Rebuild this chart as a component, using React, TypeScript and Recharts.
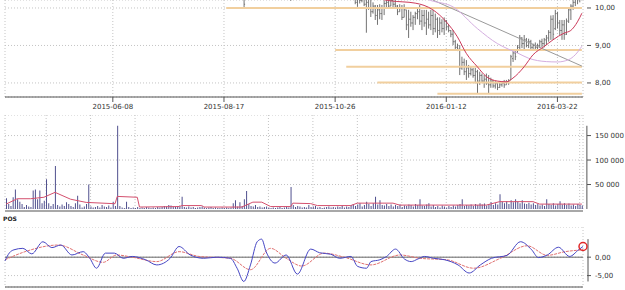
import React from "react";
import {
  Bar,
  CartesianGrid,
  ComposedChart,
  Line,
  ReferenceDot,
  ReferenceLine,
  XAxis,
  YAxis,
} from "recharts";

const DAY_COUNT = 260;
const DATE_TICKS = [48, 98, 148, 198, 248];
const DATE_LABELS = ["2015-06-08", "2015-08-17", "2015-10-26", "2016-01-12", "2016-03-22"];
const GRID_DAYS = [18, 38, 58, 78, 98, 118, 138, 158, 178, 198, 218, 238, 258];

// [day, open, high, low, close]
const EARLY_BARS = [
  [107, 10.3, 10.5, 10.0, 10.1],
  [128, 10.35, 10.45, 10.19, 10.25],
];

// [open, high, low, close] from day PRICE_START on
const PRICE_START = 156;
const OHLC = [
  [10.4, 10.45, 10.25, 10.3], [10.3, 10.4, 10.1, 10.15], [10.15, 10.35, 10.03, 10.3], [10.28, 10.3, 10.12, 10.2],
  [10.2, 10.32, 10.15, 10.25], [10.25, 10.3, 10.05, 10.1], [10.1, 10.28, 9.34, 10.15], [10.15, 10.25, 9.95, 10.0],
  [10.0, 10.22, 9.76, 9.9], [9.9, 10.15, 9.85, 10.05], [10.05, 10.08, 9.68, 9.8], [9.8, 10.08, 9.55, 9.95],
  [9.95, 10.1, 9.7, 9.85], [9.85, 10.08, 9.68, 10.0], [10.0, 10.2, 9.81, 10.12], [10.12, 10.25, 10.02, 10.15],
  [10.15, 10.22, 9.98, 10.05], [10.05, 10.25, 10.05, 10.2], [10.2, 10.2, 10.0, 10.1], [10.1, 10.22, 10.0, 10.05],
  [10.05, 10.08, 9.81, 9.9], [9.9, 10.1, 9.9, 10.0], [10.0, 10.08, 9.68, 9.75], [9.75, 10.1, 9.75, 9.95],
  [9.95, 9.95, 9.41, 9.55], [9.55, 9.95, 9.2, 9.7], [9.7, 9.9, 9.5, 9.6], [9.6, 9.81, 9.41, 9.75],
  [9.75, 9.9, 9.55, 9.85], [9.85, 10.0, 9.7, 9.9], [9.9, 10.08, 9.55, 9.65], [9.65, 9.95, 9.41, 9.8],
  [9.8, 9.95, 9.5, 9.6], [9.6, 9.95, 9.28, 9.7], [9.7, 9.9, 9.45, 9.55], [9.55, 9.95, 9.41, 9.8],
  [9.8, 9.95, 9.28, 9.45], [9.45, 9.85, 9.35, 9.7], [9.7, 9.75, 9.2, 9.4], [9.4, 9.75, 9.28, 9.6],
  [9.6, 9.7, 9.35, 9.45], [9.45, 9.75, 9.28, 9.65], [9.65, 9.68, 9.41, 9.5], [9.5, 9.55, 9.35, 9.4],
  [9.4, 9.41, 9.22, 9.3], [9.3, 9.41, 9.01, 9.1], [9.1, 9.15, 8.88, 8.95], [8.95, 9.05, 8.85, 8.9],
  [8.9, 9.01, 8.21, 8.4], [8.4, 8.7, 8.35, 8.55], [8.55, 8.65, 8.21, 8.3], [8.3, 8.61, 8.08, 8.4],
  [8.4, 8.48, 8.14, 8.25], [8.25, 8.45, 8.2, 8.35], [8.35, 8.4, 8.14, 8.2], [8.2, 8.4, 7.99, 8.3],
  [8.3, 8.35, 7.73, 8.05], [8.05, 8.3, 7.95, 8.2], [8.2, 8.25, 8.0, 8.05], [8.05, 8.21, 7.87, 8.1],
  [8.1, 8.25, 7.95, 8.0], [8.0, 8.21, 7.73, 7.95], [7.95, 8.14, 7.87, 8.05], [8.05, 8.08, 7.87, 7.92],
  [7.92, 8.05, 7.85, 7.98], [7.98, 8.02, 7.81, 7.88], [7.88, 8.02, 7.87, 7.95], [7.95, 8.05, 7.9, 8.0],
  [8.0, 8.08, 7.87, 7.95], [7.95, 8.08, 7.95, 8.02], [8.02, 8.1, 7.95, 8.05], [8.08, 8.75, 8.08, 8.7],
  [8.65, 8.88, 8.56, 8.8], [8.8, 8.88, 8.61, 8.7], [8.82, 9.01, 8.8, 8.95], [8.95, 9.28, 8.88, 9.2],
  [9.2, 9.22, 8.93, 9.05], [9.05, 9.28, 8.88, 9.15], [9.15, 9.2, 8.95, 9.0], [9.0, 9.18, 8.93, 9.1],
  [9.1, 9.15, 8.88, 8.95], [8.95, 9.05, 8.88, 9.0], [9.0, 9.08, 8.9, 8.95], [8.95, 9.05, 8.88, 9.0],
  [9.0, 9.15, 8.93, 9.1], [9.1, 9.18, 8.95, 9.05], [9.05, 9.2, 8.95, 9.15], [9.15, 9.28, 9.01, 9.2],
  [9.2, 9.41, 9.1, 9.35], [9.35, 9.8, 9.15, 9.7], [9.7, 9.81, 9.15, 9.3], [9.45, 9.95, 9.41, 9.85],
  [9.85, 9.9, 9.45, 9.6], [9.6, 9.68, 9.28, 9.4], [9.4, 9.68, 9.15, 9.55], [9.55, 9.68, 9.15, 9.3],
  [9.3, 9.72, 9.28, 9.65], [9.65, 10.0, 9.6, 9.95], [9.95, 10.1, 9.68, 10.05], [10.05, 10.21, 9.95, 10.15],
  [10.15, 10.3, 10.05, 10.25], [10.25, 10.35, 10.1, 10.3], [10.3, 10.4, 10.15, 10.35],
];

// [day, value]
const MA_RED = [
  [160, 10.35], [173, 10.19], [184, 10.13], [192, 9.95], [198, 9.63], [203, 9.23], [207, 8.79],
  [212, 8.43], [216, 8.17], [221, 8.05], [225, 8.03], [228, 8.13], [233, 8.43], [237, 8.75],
  [242, 8.97], [246, 9.15], [251, 9.33], [254, 9.4], [257, 9.63], [259, 9.86],
];
const MA_LAVENDER = [
  [180, 10.45], [191, 10.2], [201, 10.03], [212, 9.45], [221, 9.05], [226, 8.9], [230, 8.8],
  [235, 8.66], [243, 8.57], [248, 8.56], [253, 8.62], [256, 8.75], [259, 8.98],
];
const TREND = [
  [192, 10.21],
  [259, 8.45],
];
// [start day, level]
const LEVELS = [
  [99, 10.0],
  [148, 8.88],
  [153, 8.43],
  [167, 8.01],
  [194, 7.71],
];

// volume in thousands, one per day
const VOLUME = [
  22, 10, 6, 24, 40, 20, 15, 10, 4, 8,
  5, 4, 38, 40, 20, 38, 12, 17, 61, 12,
  6, 10, 88, 8, 5, 9, 6, 14, 10, 6,
  4, 12, 27, 9, 3, 5, 10, 50, 5, 3,
  4, 6, 3, 8, 5, 4, 7, 3, 15, 6,
  170, 6, 3, 2, 15, 4, 2, 3, 2, 4,
  2, 3, 2, 4, 3, 2, 3, 2, 4, 3,
  4, 6, 5, 8, 7, 5, 4, 6, 5, 25,
  4, 3, 5, 3, 4, 2, 3, 4, 5, 3,
  2, 3, 4, 2, 3, 2, 2, 3, 2, 3,
  2, 3, 12, 18, 5, 14, 6, 20, 37, 10,
  6, 5, 8, 4, 5, 3, 4, 5, 3, 2,
  3, 2, 3, 4, 2, 3, 5, 3, 45, 8,
  4, 6, 5, 3, 4, 3, 8, 4, 5, 6,
  3, 4, 2, 3, 4, 5, 3, 4, 3, 5,
  4, 6, 3, 5, 4, 8, 10, 6, 9, 12,
  5, 8, 15, 10, 6, 12, 25, 9, 18, 8,
  7, 10, 6, 9, 5, 8, 6, 9, 4, 7,
  6, 9, 8, 5, 10, 8, 20, 7, 6, 9,
  12, 5, 8, 4, 6, 3, 7, 5, 3, 6,
  4, 7, 5, 8, 10, 20, 6, 8, 7, 9,
  6, 10, 8, 12, 9, 11, 7, 10, 14, 8,
  12, 9, 30, 15, 12, 16, 10, 18, 14, 20,
  15, 12, 18, 11, 10, 13, 9, 12, 8, 10,
  7, 9, 6, 20, 10, 8, 12, 7, 10, 16,
  9, 12, 8, 11, 7, 9, 6, 10, 8, 7,
];
const VOLUME_MA = [
  [0, 10], [5, 21], [11, 21], [17, 24], [22, 34], [29, 20], [36, 13.5], [49, 10.8], [50, 25.7],
  [59, 24], [60, 4], [78, 5], [79, 7], [88, 7], [89, 4], [106, 4], [111, 14], [115, 14],
  [119, 5], [128, 5], [129, 12], [137, 11], [140, 7], [155, 7], [158, 12], [174, 12], [177, 8],
  [216, 8], [222, 15], [237, 15], [240, 10], [259, 10],
];

const POS = [
  [0, -1.0], [2, 1.2], [4, 2.0], [8, 2.4], [12, 0.9], [17, 4.2], [21, 2.6], [25, 3.3], [30, 0.6],
  [35, 1.5], [38, -0.3], [41, -3.0], [45, 1.1], [49, 1.1], [53, -0.3], [57, 0.2], [63, -0.7],
  [68, -2.1], [74, -0.3], [78, 2.9], [83, 0.6], [89, -0.3], [95, 0], [101, -0.3], [104, -3.0],
  [107, -6.6], [110, -2.1], [113, 4.2], [115, 4.9], [117, 1.5], [121, -1.6], [126, 0.6],
  [131, -4.6], [137, 2.2], [141, 1.2], [146, 0.8], [150, -0.3], [155, 0.2], [158, -2.5],
  [162, -3.0], [164, -1.2], [168, -0.7], [171, 0.2], [175, 2.2], [179, -0.5], [182, -1.2],
  [185, -0.5], [188, 0.2], [192, -0.3], [197, -0.7], [203, -2.1], [208, -4.3], [213, -2.1],
  [218, -0.3], [225, 0.5], [231, 4.2], [236, 2.0], [239, -0.1], [243, 0.6], [248, 2.7],
  [253, 0.2], [257, 2.0], [259, 2.9],
];
const POS_SIGNAL = [
  [0, -0.7], [9, 1.5], [24, 3.3], [35, 0.6], [44, -1.4], [50, 0.6], [57, 0], [68, -1.2],
  [78, 1.5], [87, 0.2], [101, -0.3], [110, -3.4], [119, 2.4], [126, -0.3], [133, -2.4],
  [143, 1.1], [152, 0], [164, -2.1], [177, 0.6], [186, -0.3], [198, -0.7], [210, -3.0],
  [222, -0.3], [234, 3.1], [243, 0.5], [251, 1.5], [259, 2.0],
];

const FONT = "DejaVu Sans";
const GRID_COLOR = "#c4c4c4";
const AXIS_COLOR = "#555";

const emptyDays = () => Array.from({ length: DAY_COUNT }, (_, j) => ({ j } as any));

const priceData = emptyDays();
EARLY_BARS.forEach(([d, o, h, l, c]) => Object.assign(priceData[d], { o, h, l, c, range: [l, h] }));
OHLC.forEach(([o, h, l, c], k) => Object.assign(priceData[PRICE_START + k], { o, h, l, c, range: [l, h] }));
MA_RED.forEach(([d, v]) => (priceData[d].maRed = v));
MA_LAVENDER.forEach(([d, v]) => (priceData[d].maLav = v));
TREND.forEach(([d, v]) => (priceData[d].trend = v));

const volumeData = emptyDays();
VOLUME.forEach((v, d) => (volumeData[d].vol = v * 1000));
VOLUME_MA.forEach(([d, v]) => (volumeData[d].volMa = v * 1000));

const posData = emptyDays();
POS.forEach(([d, v]) => (posData[d].pos = v));
POS_SIGNAL.forEach(([d, v]) => (posData[d].sig = v));

const lastDay = DAY_COUNT - 1;
const volMax = Math.max(...VOLUME) * 1000;
const posValues = POS.map((p) => p[1]);
const posMin = Math.min(...posValues);
const posMax = Math.max(...posValues);
const posLast = POS[POS.length - 1];

const fmtDec = (v: number) => v.toFixed(2).replace(".", ",");
const fmtThousands = (v: number) => String(v).replace(/\B(?=(\d{3})+(?!\d))/g, " ");

function RightTick({ x, y, payload, fmt }: any) {
  return (
    <g>
      <line x1={x + 4} x2={x + 8} y1={y} y2={y} stroke={AXIS_COLOR} />
      <text x={x + 12} y={y} dy={2.5} fontSize={7} fontFamily={FONT} fill="#333">
        {fmt(payload.value)}
      </text>
    </g>
  );
}

function OhlcShape(props: any) {
  const { x, y, width, height, payload } = props;
  if (!payload || payload.h == null) return <g />;
  const top = Math.min(y, y + height);
  const bottom = Math.max(y, y + height);
  const at = (v: number) => top + ((payload.h - v) / (payload.h - payload.l)) * (bottom - top);
  const cx = x + width / 2;
  return (
    <g stroke="#727272" strokeWidth={1}>
      <line x1={cx} x2={cx} y1={top} y2={bottom} />
      <line x1={cx - 1} x2={cx} y1={at(payload.o)} y2={at(payload.o)} />
      <line x1={cx} x2={cx + 1} y1={at(payload.c)} y2={at(payload.c)} />
    </g>
  );
}

// right-hand axis line, spanning the data only
const AxisSegment = ({ x1, y1, x2, y2 }: any) => (
  <line x1={x1 + 5} x2={x2 + 5} y1={y1} y2={y2} stroke={AXIS_COLOR} />
);

const MARGIN = { top: 0, right: 0, bottom: 0, left: 5 };

export default function App() {
  return (
    <div
      style={{
        position: "absolute",
        left: 0,
        top: 0,
        width: 625,
        height: 290,
        overflow: "hidden",
        background: "#fff",
      }}
    >
      <div style={{ position: "absolute", left: 0, top: 0 }}>
        <ComposedChart width={625} height={117} data={priceData} margin={MARGIN}>
          <CartesianGrid stroke={GRID_COLOR} strokeDasharray="1 2" />
          <XAxis
            dataKey="j"
            type="category"
            ticks={DATE_TICKS}
            interval={0}
            tickFormatter={(v) => DATE_LABELS[DATE_TICKS.indexOf(v)]}
            tick={{ fontSize: 7, fill: "#333", fontFamily: FONT }}
            tickLine={{ stroke: AXIS_COLOR }}
            axisLine={{ stroke: AXIS_COLOR }}
            tickSize={5}
            tickMargin={2}
            height={20}
          />
          <YAxis
            orientation="right"
            width={42}
            domain={[7.625, 10.213]}
            ticks={[8, 9, 10]}
            interval={0}
            allowDataOverflow
            axisLine={false}
            tickLine={false}
            tickSize={0}
            tickMargin={0}
            tick={<RightTick fmt={fmtDec} />}
          />
          {LEVELS.map(([d, v]) => (
            <ReferenceLine
              key={v}
              segment={[
                { x: d, y: v },
                { x: lastDay, y: v },
              ]}
              stroke="#f1cf9e"
              strokeWidth={2}
            />
          ))}
          <Line dataKey="trend" stroke="#9a9a9a" strokeWidth={1} dot={false} connectNulls type="linear" isAnimationActive={false} />
          <Line dataKey="maLav" stroke="#d4aee0" strokeWidth={1} dot={false} connectNulls type="monotone" isAnimationActive={false} />
          <Bar dataKey="range" shape={<OhlcShape />} isAnimationActive={false} />
          <Line dataKey="maRed" stroke="#cc3a5a" strokeWidth={1} dot={false} connectNulls type="monotone" isAnimationActive={false} />
        </ComposedChart>
      </div>

      <div style={{ position: "absolute", left: 0, top: 115 }}>
        <ComposedChart width={625} height={94} data={volumeData} margin={MARGIN}>
          <CartesianGrid stroke={GRID_COLOR} strokeDasharray="1 2" />
          <XAxis dataKey="j" type="category" ticks={GRID_DAYS} interval={0} hide />
          <YAxis
            orientation="right"
            width={42}
            domain={[0, 192000]}
            ticks={[50000, 100000, 150000]}
            interval={0}
            axisLine={false}
            tickLine={false}
            tickSize={0}
            tickMargin={0}
            tick={<RightTick fmt={fmtThousands} />}
          />
          <ReferenceLine
            segment={[
              { x: lastDay, y: 0 },
              { x: lastDay, y: volMax },
            ]}
            shape={<AxisSegment />}
          />
          <Bar dataKey="vol" fill="#50508e" barSize={1} isAnimationActive={false} />
          <Line dataKey="volMa" stroke="#d4506e" strokeWidth={1} dot={false} connectNulls type="linear" isAnimationActive={false} />
        </ComposedChart>
      </div>

      <div style={{ position: "absolute", left: 5, top: 210, width: 578, height: 2, background: "#a8a8a8" }} />
      <div
        style={{
          position: "absolute",
          left: 3,
          top: 215,
          fontFamily: FONT,
          fontSize: 6,
          fontWeight: "bold",
          color: "#222",
          lineHeight: "8px",
        }}
      >
        POS
      </div>

      <div style={{ position: "absolute", left: 0, top: 227 }}>
        <ComposedChart width={625} height={62} data={posData} margin={MARGIN}>
          <CartesianGrid stroke={GRID_COLOR} strokeDasharray="1 2" />
          <XAxis
            dataKey="j"
            type="category"
            ticks={GRID_DAYS}
            interval={0}
            tick={false}
            tickLine={false}
            axisLine={{ stroke: AXIS_COLOR }}
            height={2}
          />
          <YAxis
            orientation="right"
            width={42}
            domain={[-8.1, 8.2]}
            ticks={[-5, 0]}
            interval={0}
            axisLine={false}
            tickLine={false}
            tickSize={0}
            tickMargin={0}
            tick={<RightTick fmt={fmtDec} />}
          />
          <ReferenceLine y={0} stroke="#666" />
          <ReferenceLine
            segment={[
              { x: lastDay, y: posMin },
              { x: lastDay, y: posMax },
            ]}
            shape={<AxisSegment />}
          />
          <Line dataKey="sig" stroke="#e07070" strokeWidth={1} strokeDasharray="3 1" dot={false} connectNulls type="monotone" isAnimationActive={false} />
          <Line dataKey="pos" stroke="#4646c4" strokeWidth={1} dot={false} connectNulls type="monotone" isAnimationActive={false} />
          <ReferenceDot x={posLast[0]} y={posLast[1]} r={4} fill="none" stroke="#e02828" strokeWidth={1.5} />
        </ComposedChart>
      </div>
    </div>
  );
}
